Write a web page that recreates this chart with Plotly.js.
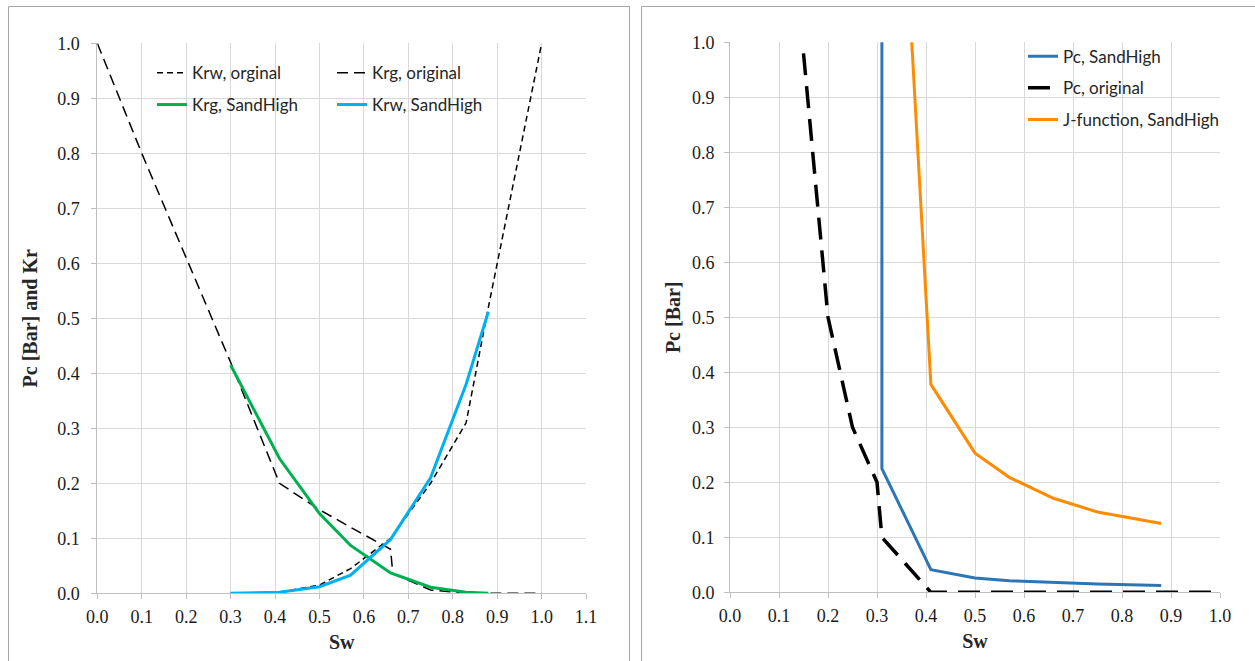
<!DOCTYPE html>
<html>
<head>
<meta charset="utf-8">
<script src="https://cdn.plot.ly/plotly-3.0.1.min.js"></script>
<style>html,body{margin:0;padding:0;background:#fff}#chart{width:1255px;height:661px}</style>
</head>
<body>
<div id="chart"></div>
<script>
// ---- Left chart data (relative permeability) ----
const krwOrigSw = [0.30, 0.41, 0.50, 0.57, 0.66, 0.75, 0.83, 0.88, 1.00];
const krwOrig   = [0.000, 0.002, 0.015, 0.045, 0.100, 0.200, 0.310, 0.520, 1.000];
const krgOrigSw = [0.00, 0.10, 0.20, 0.30, 0.41, 0.50, 0.57, 0.66, 0.665, 0.75, 0.83, 1.00];
const krgOrig   = [1.000, 0.800, 0.610, 0.420, 0.200, 0.152, 0.120, 0.080, 0.036, 0.006, 0.000, 0.000];
const sandSw    = [0.30, 0.41, 0.50, 0.57, 0.66, 0.75, 0.83, 0.88];
const krgSand   = [0.415, 0.245, 0.145, 0.087, 0.037, 0.011, 0.002, 0.000];
const krwSand   = [0.000, 0.002, 0.012, 0.033, 0.098, 0.210, 0.380, 0.512];

// ---- Right chart data (capillary pressure) ----
const pcSandSw  = [0.31, 0.31, 0.41, 0.50, 0.57, 0.66, 0.75, 0.88];
const pcSand    = [1.600, 0.225, 0.041, 0.026, 0.021, 0.018, 0.015, 0.0125];
const pcOrigSw  = [0.15, 0.20, 0.25, 0.30, 0.31, 0.41, 1.00];
const pcOrig    = [0.98, 0.50, 0.30, 0.20, 0.10, 0.00, 0.00];
const jSw       = [0.31, 0.41, 0.50, 0.57, 0.66, 0.75, 0.88];
const jFun      = [1.970, 0.378, 0.253, 0.209, 0.171, 0.146, 0.125];

const leftTicks = [0,0.1,0.2,0.3,0.4,0.5,0.6,0.7,0.8,0.9,1.0,1.1];
const rightTicks = [0,0.1,0.2,0.3,0.4,0.5,0.6,0.7,0.8,0.9,1.0];
const yTicks = [0,0.1,0.2,0.3,0.4,0.5,0.6,0.7,0.8,0.9,1.0];
const leftTickText = leftTicks.map(v => v.toFixed(1));
const rightTickText = rightTicks.map(v => v.toFixed(1));
const yTickText = yTicks.map(v => v.toFixed(1));

const W = 1255, H = 661;
const px = v => v / W;
const py = v => 1 - v / H;

const traces = [
  {x: krwOrigSw, y: krwOrig, name: 'Krw, orginal', mode: 'lines', xaxis: 'x', yaxis: 'y', legend: 'legend',
   line: {color: '#000', width: 1.5, dash: '6px,4px'}},
  {x: krgOrigSw, y: krgOrig, name: 'Krg, original', mode: 'lines', xaxis: 'x', yaxis: 'y', legend: 'legend2',
   line: {color: '#000', width: 1.5, dash: '11px,6px'}},
  {x: sandSw, y: krgSand, name: 'Krg, SandHigh', mode: 'lines', xaxis: 'x', yaxis: 'y', legend: 'legend3',
   line: {color: '#00B050', width: 3}},
  {x: sandSw, y: krwSand, name: 'Krw, SandHigh', mode: 'lines', xaxis: 'x', yaxis: 'y', legend: 'legend4',
   line: {color: '#00B0F0', width: 3}},
  {x: pcSandSw, y: pcSand, name: 'Pc, SandHigh', mode: 'lines', xaxis: 'x2', yaxis: 'y2', legend: 'legend5',
   line: {color: '#2E75B6', width: 3}},
  {x: pcOrigSw, y: pcOrig, name: 'Pc, original', mode: 'lines', xaxis: 'x2', yaxis: 'y2', legend: 'legend6',
   line: {color: '#000', width: 3.5, dash: '22px,11px'}},
  {x: jSw, y: jFun, name: 'J-function, SandHigh', mode: 'lines', xaxis: 'x2', yaxis: 'y2', legend: 'legend7',
   line: {color: '#FF8C00', width: 3}}
];

const SERIF = 'Liberation Serif';
const tickFont = () => ({family: SERIF, size: 18, color: '#1a1a1a'});
const titleFont = () => ({family: SERIF, size: 20, color: '#262626', weight: 'bold'});
const legFont = {family: 'Lato', size: 17, color: '#262626'};

function axisBase(extra) {
  return Object.assign({
    showgrid: true, gridcolor: '#d9d9d9', gridwidth: 1,
    showline: true, linecolor: '#bfbfbf', linewidth: 1,
    ticks: 'outside', ticklen: 5, tickcolor: '#bfbfbf',
    tickfont: tickFont(), zeroline: false,
    tickmode: 'array', fixedrange: true
  }, extra);
}

function leg(xPix, yPix) {
  return {x: px(xPix), y: py(yPix), xanchor: 'left', yanchor: 'middle',
          bgcolor: 'rgba(0,0,0,0)', borderwidth: 0, font: legFont, orientation: 'v'};
}

const layout = {
  width: W, height: H, autosize: false,
  margin: {l: 0, r: 0, t: 0, b: 0},
  paper_bgcolor: '#fff', plot_bgcolor: '#fff',
  font: {family: SERIF, size: 18, color: '#262626'},
  showlegend: true,
  xaxis: axisBase({domain: [px(97.3), px(586.1)], range: [0, 1.1], tickvals: leftTicks, ticktext: leftTickText, anchor: 'y',
    ticklabelstandoff: 2,
    title: {text: 'Sw', font: titleFont(), standoff: 9}}),
  yaxis: axisBase({domain: [py(593.3), py(43.3)], range: [0, 1.0], tickvals: yTicks, ticktext: yTickText, anchor: 'x',
    ticklabelstandoff: 8,
    title: {text: 'Pc [Bar] and Kr', font: titleFont(), standoff: 14}}),
  xaxis2: axisBase({domain: [px(730), px(1220)], range: [0, 1.0], tickvals: rightTicks, ticktext: rightTickText, anchor: 'y2',
    ticklabelstandoff: 2,
    title: {text: 'Sw', font: titleFont(), standoff: 9}}),
  yaxis2: axisBase({domain: [py(592.3), py(42.3)], range: [0, 1.0], tickvals: yTicks, ticktext: yTickText, anchor: 'x2',
    ticklabelstandoff: 6,
    title: {text: 'Pc [Bar]', font: titleFont(), standoff: 5}}),
  legend: leg(152, 73.3),
  legend2: leg(332, 73.3),
  legend3: leg(152, 105),
  legend4: leg(332, 105),
  legend5: leg(1023, 56.7),
  legend6: leg(1023, 88.3),
  legend7: leg(1023, 120),
  shapes: [
    {type: 'path', xref: 'paper', yref: 'paper',
     path: `M ${px(8.5)} ${py(700)} L ${px(8.5)} ${py(6.5)} L ${px(629.5)} ${py(6.5)} L ${px(629.5)} ${py(700)}`,
     line: {color: '#a6a6a6', width: 1}},
    {type: 'path', xref: 'paper', yref: 'paper',
     path: `M ${px(641.5)} ${py(700)} L ${px(641.5)} ${py(6.5)} L ${px(1300)} ${py(6.5)}`,
     line: {color: '#a6a6a6', width: 1}}
  ]
};

Plotly.newPlot('chart', traces, layout, {displayModeBar: false, staticPlot: true});
</script>
</body>
</html>
